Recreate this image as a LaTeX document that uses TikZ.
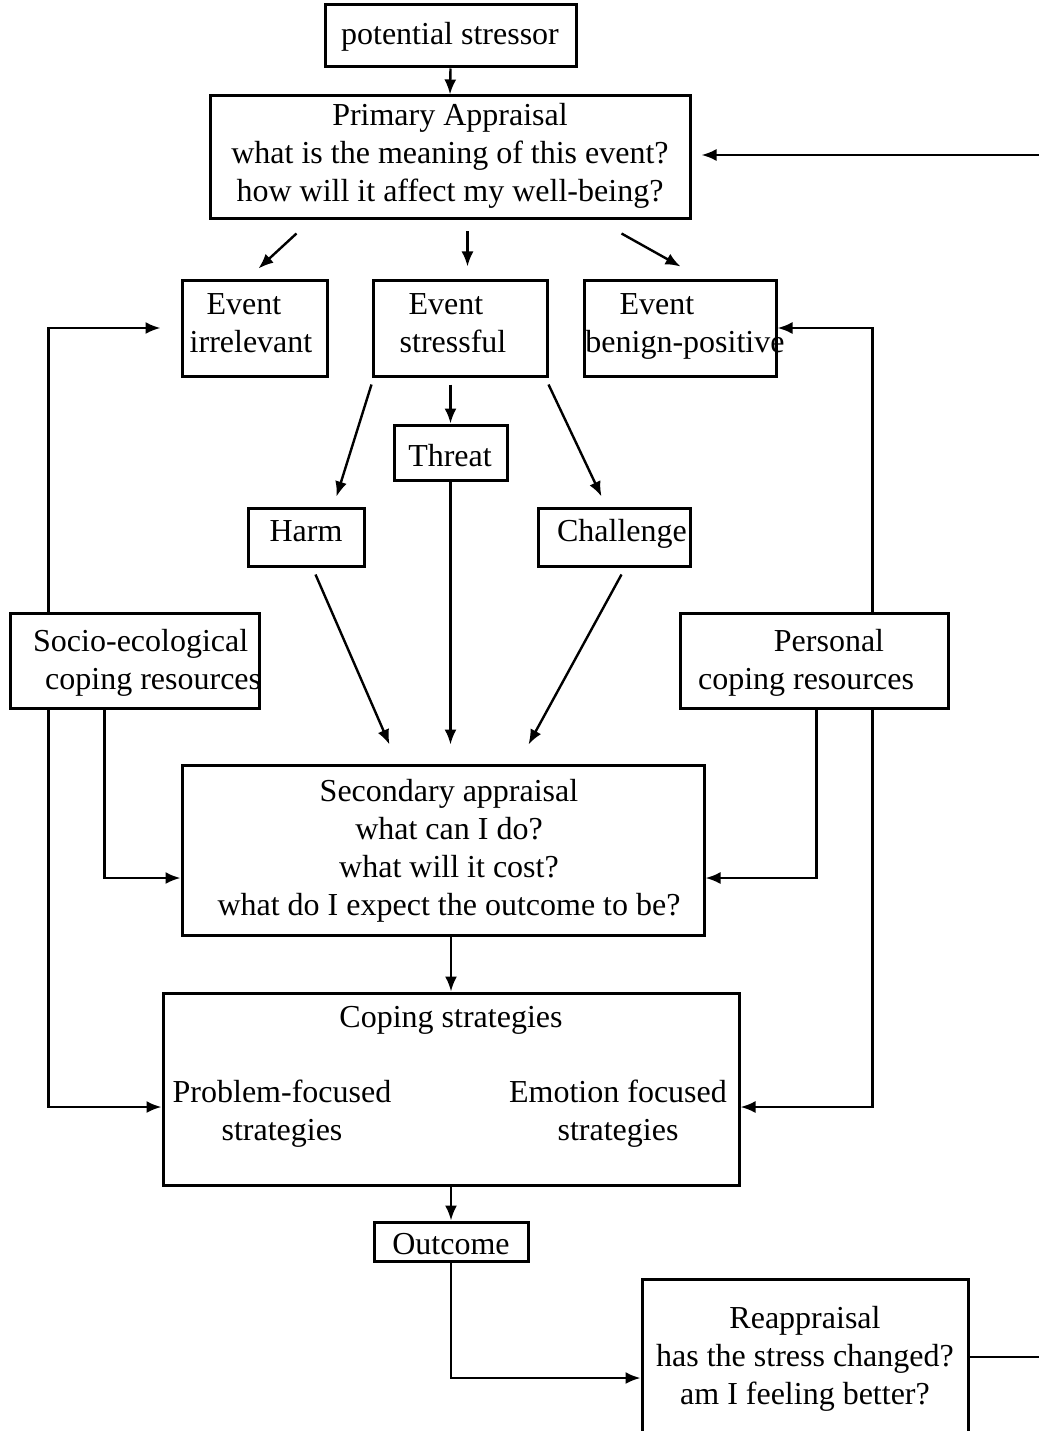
\documentclass[tikz,border=0pt]{standalone}
\usepackage{fontspec}
\setmainfont{Liberation Serif}
\usetikzlibrary{arrows.meta,calc}
\begin{document}
\begin{tikzpicture}[x=1pt,y=-1pt,
  box/.style={draw, line width=3pt, inner sep=0pt},
  txt/.style={inner sep=0pt, align=center, font=\fontsize{32}{38}\selectfont},
  arr/.style={line width=2.4pt, -{Latex[length=15pt,width=12pt]}}]
\useasboundingbox (0,0) rectangle (1038,1431);

% boxes and their texts
\node[box, minimum width=251pt, minimum height=62pt] (ps) at (450.5,36) {};
\node[txt] (pst) at (450,37) {potential stressor};

\node[box, minimum width=480pt, minimum height=123pt] (pa) at (450,157.5) {};
\node[txt] (pat) at (450,156) {Primary Appraisal\\what is the meaning of this event?\\how will it affect my well-being?};

\node[box, minimum width=145pt, minimum height=96pt] (irr) at (254.5,328) {};
\node[txt] (irrt) at (251,323) {Event\kern14pt\\irrelevant};

\node[box, minimum width=174pt, minimum height=96pt] (str) at (460,328) {};
\node[txt] (strt) at (453,323) {Event\kern14pt\\stressful};

\node[box, minimum width=192pt, minimum height=96pt] (ben) at (680,328) {};
\node[txt] (bent) at (685,326) {Event\kern56pt\\benign-positive};

\node[box, minimum width=113pt, minimum height=55pt] (thr) at (450.5,452.5) {};
\node[txt, anchor=base] (thrt) at (450,466) {Threat};

\node[box, minimum width=116pt, minimum height=58pt] (hrm) at (306,537) {};
\node[txt, anchor=base] (hrmt) at (306,541) {Harm};

\node[box, minimum width=152pt, minimum height=58pt] (chl) at (614,537) {};
\node[txt, anchor=base] (chlt) at (622,541) {Challenge};

\node[box, minimum width=249pt, minimum height=95pt] (soc) at (134.5,660.5) {};
\node[txt, align=left, anchor=west] (soct) at (33,663) {Socio-ecological\\\kern12pt coping resources};

\node[box, minimum width=268pt, minimum height=95pt] (per) at (814,660.5) {};
\node[txt] (pert) at (806,663) {\kern46pt Personal\\coping resources};

\node[box, minimum width=522pt, minimum height=170pt] (sec) at (443,850) {};
\node[txt] (sect) at (449,851) {Secondary appraisal\\what can I do?\\what will it cost?\\what do I expect the outcome to be?};

\node[box, minimum width=576pt, minimum height=192pt] (cop) at (451,1089) {};
\node[txt] (copt) at (451,1020) {Coping strategies};
\node[txt] (pft) at (282,1114) {Problem-focused\\strategies};
\node[txt] (eft) at (618,1114) {Emotion focused\\strategies};

\node[box, minimum width=154pt, minimum height=39pt] (out) at (451,1241.5) {};
\node[txt, anchor=base] (outt) at (451,1254) {Outcome};

\node[box, minimum width=326pt, minimum height=156pt] (rea) at (805,1357) {};
\node[txt] (reat) at (805,1359) {Reappraisal\\has the stress changed?\\am I feeling better?};

% main flow
\draw[arr] (ps.south) -- (pa.north);
\draw[arr] ([xshift=88pt,yshift=-13pt]pa.south west) -- ([xshift=78pt,yshift=10pt]irr.north west);
\draw[arr] ([xshift=259pt,yshift=-11pt]pa.south west) -- ([xshift=96pt,yshift=12pt]str.north west);
\draw[arr] ([xshift=413pt,yshift=-13pt]pa.south west) -- ([xshift=98pt,yshift=12pt]ben.north west);

\draw[arr] ([yshift=-7pt]str.south west) -- ([xshift=90pt,yshift=10pt]hrm.north west);
\draw[arr] ($(thr.north |- str.south)+(0,7)$) -- (thr.north);
\draw[arr] ([yshift=-7pt]str.south east) -- ([xshift=65pt,yshift=10pt]chl.north west);

\draw[arr] ([xshift=69pt,yshift=-7pt]hrm.south west) -- ([xshift=209pt,yshift=19pt]sec.north west);
\draw[arr] (thr.south) -- ($(thr.south |- sec.north)+(0,-19)$);
\draw[arr] ([xshift=85pt,yshift=-7pt]chl.south west) -- ([xshift=348pt,yshift=19pt]sec.north west);

% coping resources
\draw[arr] ([xshift=40pt]soc.north west) |- ([xshift=-20pt]irr.west);
\draw[arr] ([xshift=-77pt]per.north east) |- (ben.east);
\draw[arr] ([xshift=96pt]soc.south west) |- ([yshift=-28pt]sec.west);
\draw[arr] ([xshift=-133pt]per.south east) |- ([yshift=-28pt]sec.east);
\draw[arr] ([xshift=40pt]soc.south west) |- ([yshift=-18pt]cop.west);
\draw[arr] ([xshift=-77pt]per.south east) |- ([yshift=-18pt]cop.east);

% coping, outcome and reappraisal loop
\draw[arr] (cop.north |- sec.south) -- (cop.north);
\draw[arr] (cop.south) -- (out.north);
\draw[arr] (out.south) |- ([yshift=-21pt]rea.west);
\draw[arr] (rea.east) -- ++(92,0) |- ([xshift=10pt,yshift=2.5pt]pa.east);
\end{tikzpicture}
\end{document}
